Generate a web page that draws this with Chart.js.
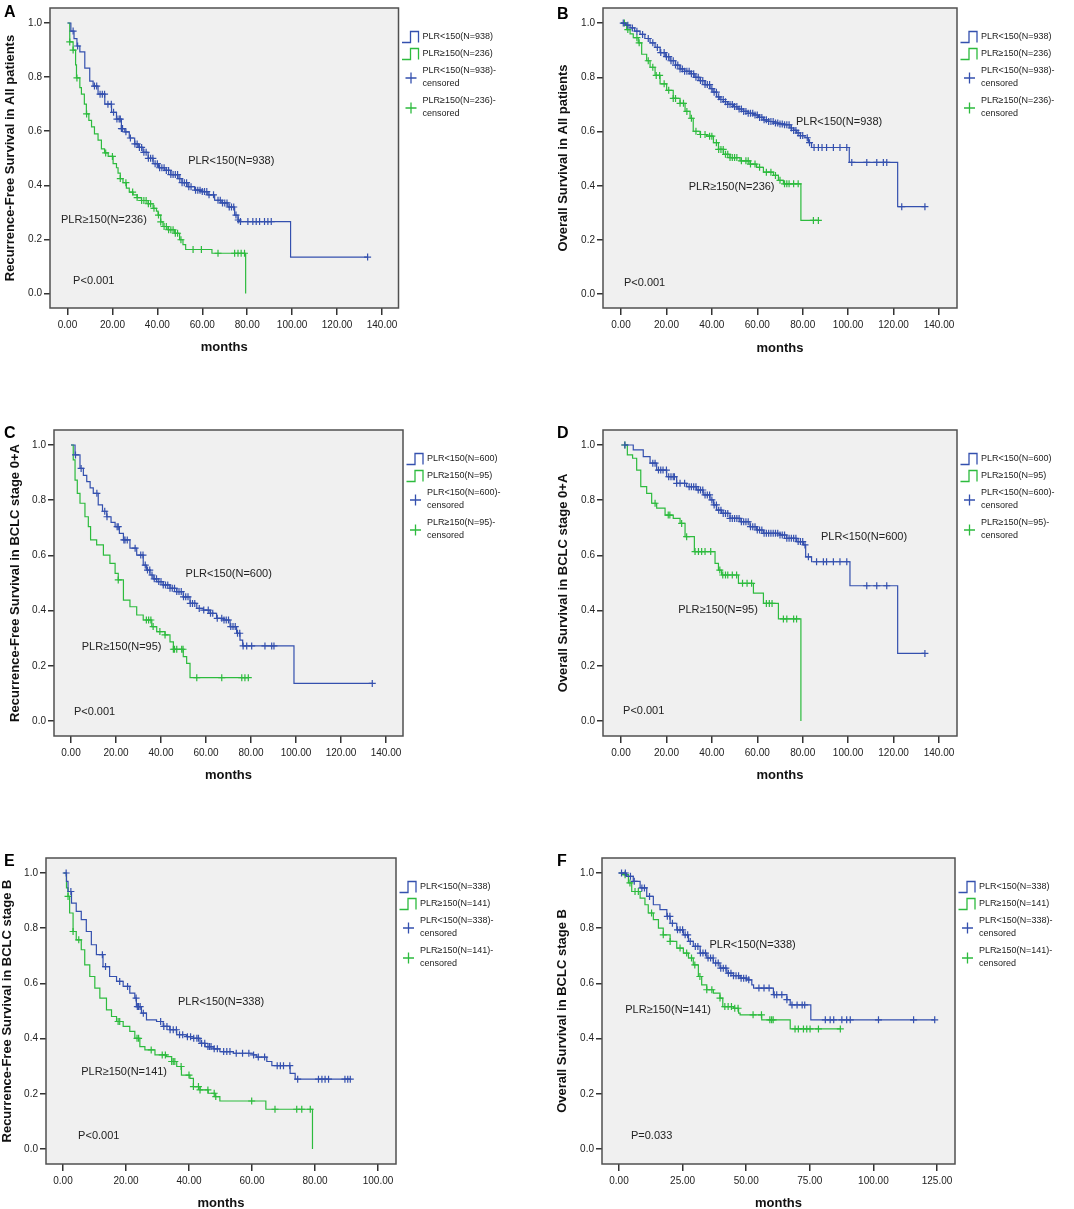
<!DOCTYPE html>
<html>
<head>
<meta charset="utf-8">
<title>PLR survival curves</title>
<script src="https://cdn.jsdelivr.net/npm/chart.js@4.4.1/dist/chart.umd.min.js"></script>
<style>
  html, body { margin: 0; padding: 0; background: #fff; }
  body { position: relative; width: 1074px; height: 1209px; overflow: hidden; }
  canvas { position: absolute; }
  .tag { position: absolute; z-index: 5; font: bold 16px Arial, "Liberation Sans", sans-serif; line-height: 16px; color: #000; }
</style>
</head>
<body>
<div class="tag" style="left:4px;top:4px">A</div>
<div class="tag" style="left:557px;top:6px">B</div>
<div class="tag" style="left:4px;top:425px">C</div>
<div class="tag" style="left:557px;top:425px">D</div>
<div class="tag" style="left:4px;top:853px">E</div>
<div class="tag" style="left:557px;top:853px">F</div>
<script>
"use strict";

const FONT = 'Arial, "Liberation Sans", sans-serif';
const BLUE = '#3450ae';
const GREEN = '#2dbb3e';

// Tick labels
const xTicks140 = [0, 20, 40, 60, 80, 100, 120, 140];
const xTicks100 = [0, 20, 40, 60, 80, 100];
const xTicks125 = [0, 25, 50, 75, 100, 125];
const yTicks = [0, 0.2, 0.4, 0.6, 0.8, 1.0];

// Group labels
const groupsAll = ['PLR<150(N=938)', 'PLR≥150(N=236)'];
const groups0A = ['PLR<150(N=600)', 'PLR≥150(N=95)'];
const groupsB = ['PLR<150(N=338)', 'PLR≥150(N=141)'];

// A: Recurrence-free survival, all patients (step times in months / survival / censored times)
const aLowT = [0, 1.5, 2.9, 4.2, 5.5, 7.7, 9.9, 11.4, 13.6, 16.6, 19.6, 21.8, 24, 25.5, 27.5, 29.9, 31.5, 33.6, 35.9, 38.1, 40.5, 43.3, 46, 49.2, 51, 53.6, 56.6, 59.6, 62.5, 65.5, 68.4, 71.4, 74.4, 75.9, 76.6, 99.3, 133.6];
const aLowS = [1, 0.97, 0.942, 0.915, 0.893, 0.833, 0.785, 0.767, 0.737, 0.70, 0.67, 0.645, 0.61, 0.598, 0.575, 0.553, 0.54, 0.522, 0.50, 0.48, 0.465, 0.455, 0.44, 0.425, 0.41, 0.395, 0.382, 0.377, 0.365, 0.345, 0.335, 0.32, 0.29, 0.272, 0.266, 0.135, 0.135];
const aLowC = [2.5, 4.5, 12, 13, 14.5, 15.5, 16.5, 18, 19.5, 20.5, 22, 23, 23.5, 24, 24.5, 26, 28, 30, 31, 32, 33, 34, 35, 36, 37, 38, 39, 40, 41, 42, 43, 44, 45, 46, 47, 48, 49, 50, 51, 52, 53, 54, 55, 57, 58, 59, 60, 61, 62, 63, 65, 67, 68, 69, 70, 71, 72, 73, 74, 75, 76, 77, 80.3, 82.5, 84, 85.5, 87.7, 89.2, 90.7, 133.6];
const aHighT = [0, 1, 2.5, 3.6, 4, 5.5, 6.2, 7.5, 8.4, 9.5, 10.7, 12, 13.6, 15.1, 16.5, 18.1, 20.3, 21.8, 22.5, 23.5, 24.7, 26.2, 27.5, 29.2, 31, 32.9, 35.9, 38.1, 39.6, 40.3, 41.5, 42.5, 44.7, 47.7, 49.9, 51.4, 52.6, 64.3, 79.3];
const aHighS = [1, 0.93, 0.90, 0.845, 0.797, 0.761, 0.737, 0.70, 0.664, 0.64, 0.616, 0.59, 0.567, 0.535, 0.52, 0.507, 0.48, 0.465, 0.445, 0.425, 0.41, 0.39, 0.375, 0.365, 0.355, 0.344, 0.332, 0.315, 0.305, 0.29, 0.265, 0.248, 0.236, 0.223, 0.199, 0.181, 0.163, 0.149, 0];
const aHighC = [1, 2.5, 4.2, 8.5, 17, 20, 23.5, 26, 29, 31, 33, 34, 35, 36, 37, 38.5, 40.5, 41.5, 43, 44, 45, 46, 47, 48, 49, 50.5, 55.9, 59.6, 67, 74.4, 75.9, 77.3, 78.8];

// B: Overall survival, all patients
const bLowT = [0, 2, 4, 6, 8.4, 10.5, 12.8, 15, 17.2, 19.5, 21.6, 24, 26, 28, 30.4, 32.5, 34.8, 37, 39.2, 40.5, 42.1, 43.5, 45.1, 47, 49.5, 51.5, 53.9, 56, 58.3, 60.5, 62.7, 65, 67.1, 69.5, 71.5, 74.4, 76, 77.3, 79, 81, 82.5, 83.9, 100.5, 121.8, 133.8];
const bLowS = [1, 0.992, 0.982, 0.97, 0.958, 0.943, 0.927, 0.91, 0.891, 0.876, 0.861, 0.845, 0.831, 0.822, 0.813, 0.80, 0.788, 0.773, 0.758, 0.745, 0.728, 0.718, 0.71, 0.70, 0.692, 0.683, 0.674, 0.667, 0.661, 0.652, 0.643, 0.637, 0.631, 0.628, 0.625, 0.613, 0.604, 0.595, 0.585, 0.577, 0.559, 0.541, 0.486, 0.323, 0.323];
const bLowC = [1, 3, 5, 7, 9.5, 12, 14, 16, 17.5, 19, 20, 21, 22, 23, 24, 25, 26, 27, 28, 29, 30, 31, 32, 33, 34, 35, 36, 37, 38, 39, 40, 41, 42, 43, 44, 45, 46, 47, 48, 49, 50, 51, 52, 53, 54, 55, 56, 57, 58, 59, 60, 61, 62, 63, 64, 65, 66, 67, 68, 69, 70, 71, 72, 73, 74, 75, 76, 77, 78, 79, 80, 82, 83, 85, 86.9, 88.5, 90.5, 93.5, 96.4, 99.4, 101.6, 108.2, 112.6, 115.5, 117, 123.6, 133.8];
const bHighT = [0, 2.5, 4, 5.4, 7.6, 9.1, 11.3, 12.8, 15, 17.2, 20.1, 23, 26, 28.2, 30.4, 31.8, 34.8, 37.7, 40.7, 42.9, 45.1, 48, 52.4, 56.8, 59.7, 62.7, 67.1, 69.3, 71.5, 79.2, 86.9];
const bHighS = [1, 0.976, 0.96, 0.946, 0.927, 0.885, 0.861, 0.837, 0.807, 0.776, 0.752, 0.722, 0.704, 0.674, 0.649, 0.601, 0.589, 0.583, 0.559, 0.534, 0.516, 0.504, 0.492, 0.48, 0.468, 0.45, 0.438, 0.42, 0.407, 0.272, 0.272];
const bHighC = [1.5, 3, 7, 8, 12, 14, 15.5, 17, 19, 21, 23, 24, 26, 27.5, 29, 31, 33, 35, 37, 39, 40, 42, 43, 44, 45, 46, 47, 48, 49, 50, 51, 53, 55, 56, 57, 59, 61, 64, 66, 68, 70, 72, 73, 74, 76, 78, 84.7, 86.9];

// C: Recurrence-free survival, BCLC stage 0+A
const cLowT = [0, 1.8, 4, 5.5, 7, 8.5, 9.9, 12.1, 14, 15.9, 17.8, 19.6, 21.5, 23.3, 26.2, 29.2, 32.1, 33.5, 35.1, 36.5, 38.1, 41, 44, 47, 49.9, 52.9, 55.9, 58.8, 61.8, 64.7, 67.7, 70.7, 73.6, 75.1, 76.3, 99.1, 133.9];
const cLowS = [1, 0.964, 0.915, 0.89, 0.867, 0.845, 0.825, 0.783, 0.76, 0.74, 0.72, 0.704, 0.68, 0.656, 0.626, 0.601, 0.565, 0.547, 0.529, 0.515, 0.505, 0.493, 0.481, 0.469, 0.45, 0.426, 0.408, 0.402, 0.39, 0.372, 0.366, 0.342, 0.318, 0.293, 0.272, 0.136, 0.136];
const cLowC = [2, 4.5, 11.5, 15, 16, 20.5, 21, 23.5, 24, 25, 28.5, 31, 32, 33, 34, 35, 36, 37, 38, 39, 40, 41, 42, 43, 44, 45, 46, 47, 48, 49, 50, 51, 52, 53, 54, 55, 57, 59, 61, 62, 63, 65, 67, 68, 69, 70, 71, 72, 73, 74, 75, 76.5, 78.1, 80.3, 86.2, 89.2, 90.2, 133.9];
const cHighT = [0, 1, 1.8, 2.8, 4, 6.2, 7.7, 8.7, 11.4, 14.4, 17.3, 19.6, 21, 23.3, 26.2, 29.2, 32.1, 35.9, 38.1, 41.8, 44, 45.5, 49.9, 51.4, 52.9, 78.8];
const cHighS = [1, 0.946, 0.873, 0.825, 0.789, 0.74, 0.704, 0.656, 0.638, 0.601, 0.571, 0.535, 0.511, 0.438, 0.414, 0.384, 0.366, 0.342, 0.324, 0.312, 0.287, 0.26, 0.233, 0.209, 0.157, 0.157];
const cHighC = [21, 33.5, 34.5, 35.5, 36.5, 39.5, 41.8, 45.5, 46, 47, 49.2, 49.8, 55.9, 67, 75.9, 77.3, 78.8];

// D: Overall survival, BCLC stage 0+A
const dLowT = [1.7, 5.4, 9.8, 12.8, 15.7, 20.1, 24.5, 28.9, 33.3, 36.2, 39.2, 40.7, 42.1, 44.3, 48, 52.4, 56.8, 59.7, 62.7, 67.1, 70, 72.9, 77.3, 80.3, 81.3, 83.9, 100.8, 121.8, 133.8];
const dLowS = [1, 0.982, 0.958, 0.934, 0.909, 0.885, 0.861, 0.849, 0.837, 0.819, 0.801, 0.783, 0.764, 0.752, 0.734, 0.722, 0.704, 0.692, 0.68, 0.68, 0.674, 0.662, 0.65, 0.638, 0.595, 0.577, 0.49, 0.245, 0.245];
const dLowC = [1.7, 14, 15, 16.5, 17.5, 18.5, 20, 21, 22, 23, 23.5, 24.5, 26, 28, 30, 31, 32, 33, 34, 35, 36, 37, 38, 39, 40, 41, 42, 43, 44, 45, 46, 47, 48, 49, 50, 51, 52, 53, 54, 55, 56, 57, 58, 59, 60, 61, 62, 63, 64, 65, 66, 67, 68, 69, 70, 71, 72, 73, 74, 75, 76, 77, 78, 79, 80, 81, 82.5, 86.1, 89.1, 90.5, 93.5, 96.4, 99.4, 108.2, 112.6, 117, 133.8];
const dHighT = [1.7, 2.8, 5.1, 6.9, 8.7, 11.3, 13.5, 15.7, 19.4, 23, 26, 28.2, 32.3, 41.4, 42.9, 44.3, 51.7, 58.3, 62.7, 69.3, 79.2];
const dHighS = [1, 0.964, 0.952, 0.909, 0.849, 0.825, 0.789, 0.771, 0.746, 0.734, 0.716, 0.668, 0.614, 0.571, 0.547, 0.529, 0.499, 0.463, 0.426, 0.37, 0];
const dHighC = [1.7, 15, 20.8, 21.5, 26.7, 28.9, 32.6, 34.1, 35.5, 37, 39.5, 43.5, 44.8, 46, 47, 49, 50.9, 53.5, 55.5, 57.5, 64, 65.3, 66.5, 71.5, 73, 76, 77.3];

// E: Recurrence-free survival, BCLC stage B
const eLowT = [0.2, 1.1, 1.6, 2.7, 4.2, 5.8, 7.4, 9, 10.6, 12.7, 14.8, 17, 19.1, 21.2, 22.8, 23.3, 24.9, 26.5, 29.7, 31.8, 33.9, 36.1, 39.2, 41.4, 43.5, 45.1, 47.7, 49.8, 54.1, 60.4, 61.5, 64.7, 66.3, 72.1, 73.7, 91.2];
const eLowS = [1, 0.97, 0.933, 0.891, 0.861, 0.831, 0.788, 0.74, 0.704, 0.661, 0.625, 0.607, 0.589, 0.565, 0.547, 0.516, 0.492, 0.468, 0.462, 0.444, 0.432, 0.414, 0.407, 0.401, 0.383, 0.371, 0.363, 0.353, 0.347, 0.341, 0.333, 0.317, 0.302, 0.274, 0.253, 0.253];
const eLowC = [1, 2.5, 12.5, 13.5, 18, 20.5, 23.2, 23.6, 24, 24.5, 25.5, 31, 32, 33, 34, 35, 36, 37, 38, 39.5, 40.5, 41.5, 42.5, 43, 44, 45, 46, 46.5, 47, 48, 49, 51, 52, 53, 55, 57, 59, 60.5, 62, 64, 68, 69, 70, 72, 74.5, 81.1, 82.2, 83.2, 84.3, 89.5, 90.4, 91.2];
const eHighT = [0.2, 1.1, 1.6, 2.1, 3.2, 4.2, 5.8, 6.9, 8.5, 10.1, 11.7, 13.8, 15.4, 17, 19.1, 21.2, 22.8, 24.4, 26, 29.2, 32.9, 34.5, 36.1, 37.6, 40.3, 41.4, 43.5, 46.1, 48.3, 49.8, 64.4, 79.2];
const eHighS = [1, 0.946, 0.915, 0.855, 0.788, 0.758, 0.722, 0.667, 0.625, 0.583, 0.547, 0.504, 0.48, 0.462, 0.444, 0.426, 0.401, 0.371, 0.359, 0.341, 0.335, 0.317, 0.299, 0.268, 0.256, 0.226, 0.214, 0.202, 0.19, 0.174, 0.144, 0];
const eHighC = [1.6, 3.2, 5, 17.5, 18, 23.5, 24, 28, 31.5, 32.5, 34.5, 35, 35.5, 37.5, 40, 41.4, 43, 43.5, 46, 48, 48.5, 59.9, 67.3, 74.2, 75.8, 78.5];

// F: Overall survival, BCLC stage B
const fLowT = [0, 3, 5.6, 8.3, 10.9, 13.5, 16.1, 18.8, 20.1, 22.7, 25.3, 27.3, 29.2, 31.9, 34.5, 37.1, 39.7, 42.4, 45, 47.6, 50.2, 52.2, 52.9, 60.7, 66, 67.3, 75.4, 124.1];
const fLowS = [1, 0.988, 0.97, 0.946, 0.915, 0.885, 0.867, 0.843, 0.818, 0.794, 0.776, 0.752, 0.734, 0.71, 0.692, 0.674, 0.655, 0.637, 0.628, 0.619, 0.613, 0.595, 0.583, 0.559, 0.541, 0.522, 0.468, 0.468];
const fLowC = [1, 2.5, 4.5, 6, 9, 10, 12, 19, 20, 21, 23, 24, 25, 26, 27, 28, 30, 31, 32, 33, 34, 35, 36, 37, 38, 39, 40, 41, 42, 43, 44, 45, 46, 47, 48, 49, 50, 51, 55, 57, 59, 61, 62, 64, 66, 68, 70, 72, 73, 81.1, 83, 84.4, 87.6, 89.5, 90.9, 102, 115.8, 124.1];
const fHighT = [0, 1.7, 3.7, 5, 8.3, 10.2, 11.5, 13.5, 15.5, 17.4, 20.1, 22.7, 25.3, 27.3, 29.2, 31.2, 32.5, 34.5, 37.1, 39.7, 40.8, 45, 47, 47.6, 56.1, 67.3, 87];
const fHighS = [1, 0.994, 0.964, 0.933, 0.909, 0.885, 0.855, 0.831, 0.80, 0.776, 0.752, 0.728, 0.71, 0.692, 0.667, 0.625, 0.595, 0.577, 0.565, 0.547, 0.516, 0.51, 0.492, 0.486, 0.468, 0.435, 0.435];
const fHighC = [2.4, 4.3, 6.3, 7.6, 12.8, 17.4, 20.1, 24, 26.6, 28.5, 29.8, 31.8, 34.5, 36.5, 39.7, 41.6, 42.9, 44.2, 45.5, 46.8, 52.7, 56, 59.3, 60, 60.6, 69.2, 70.5, 72.5, 73.8, 75.1, 78.4, 87];


// Survival value in force at time t (used to put the censor marks on the curve)
function survAt(times, surv, t) {
    let s = surv[0];
    for (let i = 0; i < times.length; i++) {
        if (times[i] <= t) s = surv[i]; else break;
    }
    return s;
}

function curveSets(times, surv, cens, color) {
    return [{
        type: 'line',
        data: times.map((t, i) => ({x: t, y: surv[i]})),
        borderColor: color,
        borderWidth: 1.2,
        pointRadius: 0,
        stepped: 'before',
        fill: false
    }, {
        type: 'scatter',
        data: cens.map(t => ({x: t, y: survAt(times, surv, t)})),
        borderColor: color,
        backgroundColor: color,
        pointStyle: 'cross',
        pointRadius: 3.5,
        borderWidth: 1.2,
        showLine: false
    }];
}

const panels = [
    {box: {x: 0, y: 0, w: 540, h: 362}, frame: {l: 50, t: 2, r: 398.5, b: 308}, xPix: [67.5, 382], yPix: [293.3, 17.3],
     xTicks: xTicks140, yTitle: 'Recurrence-Free Survival in All patients', yTitleX: 10, monthsY: 347, groups: groupsAll,
     low: [aLowT, aLowS, aLowC], high: [aHighT, aHighS, aHighC],
     notes: [['PLR<150(N=938)', 72.9, 0.49, 'center'], ['PLR≥150(N=236)', 16.2, 0.273, 'center'], ['P<0.001', 2.5, 0.045, 'left']]},
    {box: {x: 540, y: 0, w: 534, h: 362}, frame: {l: 603, t: 3, r: 957, b: 308}, xPix: [621, 939], yPix: [294, 18.3],
     xTicks: xTicks140, yTitle: 'Overall Survival in All patients', yTitleX: 563, monthsY: 348, groups: groupsAll,
     low: [bLowT, bLowS, bLowC], high: [bHighT, bHighS, bHighC],
     notes: [['PLR<150(N=938)', 96, 0.635, 'center'], ['PLR≥150(N=236)', 48.7, 0.395, 'center'], ['P<0.001', 1.3, 0.04, 'left']]},
    {box: {x: 0, y: 415, w: 540, h: 375}, frame: {l: 54, t: 430, r: 403, b: 736}, xPix: [71, 386], yPix: [721, 445],
     xTicks: xTicks140, yTitle: 'Recurrence-Free Survival in BCLC stage 0+A', yTitleX: 15, monthsY: 775, groups: groups0A,
     low: [cLowT, cLowS, cLowC], high: [cHighT, cHighS, cHighC],
     notes: [['PLR<150(N=600)', 70.1, 0.533, 'center'], ['PLR≥150(N=95)', 22.5, 0.268, 'center'], ['P<0.001', 1.3, 0.033, 'left']]},
    {box: {x: 540, y: 415, w: 534, h: 375}, frame: {l: 603, t: 430, r: 957, b: 736}, xPix: [621, 939], yPix: [721, 445],
     xTicks: xTicks140, yTitle: 'Overall Survival in BCLC stage 0+A', yTitleX: 563, monthsY: 775, groups: groups0A,
     low: [dLowT, dLowS, dLowC], high: [dHighT, dHighS, dHighC],
     notes: [['PLR<150(N=600)', 107, 0.667, 'center'], ['PLR≥150(N=95)', 42.7, 0.402, 'center'], ['P<0.001', 0.9, 0.036, 'left']]},
    {box: {x: 0, y: 845, w: 540, h: 364}, frame: {l: 46, t: 858, r: 396, b: 1164}, xPix: [63, 378], yPix: [1149, 873],
     xTicks: xTicks100, yTitle: 'Recurrence-Free Survival in BCLC stage B', yTitleX: 7, monthsY: 1203, groups: groupsB,
     low: [eLowT, eLowS, eLowC], high: [eHighT, eHighS, eHighC],
     notes: [['PLR<150(N=338)', 50.2, 0.533, 'center'], ['PLR≥150(N=141)', 19.4, 0.279, 'center'], ['P<0.001', 4.8, 0.047, 'left']]},
    {box: {x: 540, y: 845, w: 534, h: 364}, frame: {l: 602, t: 858, r: 955, b: 1164}, xPix: [619, 937], yPix: [1149, 873],
     xTicks: xTicks125, yTitle: 'Overall Survival in BCLC stage B', yTitleX: 562, monthsY: 1203, groups: groupsB,
     low: [fLowT, fLowS, fLowC], high: [fHighT, fHighS, fHighC],
     notes: [['PLR<150(N=338)', 52.5, 0.739, 'center'], ['PLR≥150(N=141)', 19.3, 0.504, 'center'], ['P=0.033', 4.7, 0.047, 'left']]}
];


// Legend to the right of the plot frame, in canvas coordinates
function drawLegend(ctx, area, groups) {
    const r = area.right, t = area.top;
    ctx.save();
    ctx.lineWidth = 1.3;
    // step icons
    [[BLUE, t + 29], [GREEN, t + 46]].forEach(function (it) {
        const y = it[1];
        ctx.strokeStyle = it[0];
        ctx.beginPath();
        ctx.moveTo(r + 3.5, y + 5.5);
        ctx.lineTo(r + 12, y + 5.5);
        ctx.lineTo(r + 12, y - 5.5);
        ctx.lineTo(r + 20, y - 5.5);
        ctx.lineTo(r + 20, y + 5.5);
        ctx.stroke();
    });
    // censored crosses
    [[BLUE, t + 70], [GREEN, t + 100]].forEach(function (it) {
        const y = it[1];
        ctx.strokeStyle = it[0];
        ctx.beginPath();
        ctx.moveTo(r + 7, y); ctx.lineTo(r + 18, y);
        ctx.moveTo(r + 12.5, y - 5.5); ctx.lineTo(r + 12.5, y + 5.5);
        ctx.stroke();
    });
    ctx.fillStyle = '#222';
    ctx.font = '9px ' + FONT;
    ctx.textAlign = 'left';
    ctx.textBaseline = 'middle';
    const tx = r + 24;
    ctx.fillText(groups[0], tx, t + 29);
    ctx.fillText(groups[1], tx, t + 46);
    ctx.fillText(groups[0] + '-', tx, t + 63);
    ctx.fillText('censored', tx, t + 76);
    ctx.fillText(groups[1] + '-', tx, t + 93);
    ctx.fillText('censored', tx, t + 106);
    ctx.restore();
}

function makePanel(p) {
    const cv = document.createElement('canvas');
    cv.width = p.box.w;
    cv.height = p.box.h;
    cv.style.left = p.box.x + 'px';
    cv.style.top = p.box.y + 'px';
    cv.style.width = p.box.w + 'px';
    cv.style.height = p.box.h + 'px';
    document.body.appendChild(cv);

    const f = p.frame;
    const x0 = p.xTicks[0], x1 = p.xTicks[p.xTicks.length - 1];
    const ppx = (p.xPix[1] - p.xPix[0]) / (x1 - x0);
    const ppy = p.yPix[0] - p.yPix[1];
    const xMin = x0 - (p.xPix[0] - f.l) / ppx;
    const xMax = x1 + (f.r - p.xPix[1]) / ppx;
    const yMin = -(f.b - p.yPix[0]) / ppy;
    const yMax = 1 + (p.yPix[1] - f.t) / ppy;

    const deco = {
        id: 'deco',
        beforeDraw: function (chart) {
            const a = chart.chartArea, ctx = chart.ctx;
            ctx.save();
            ctx.fillStyle = '#f0f0f0';
            ctx.fillRect(a.left, a.top, a.right - a.left, a.bottom - a.top);
            ctx.restore();
        },
        afterDraw: function (chart) {
            const a = chart.chartArea, ctx = chart.ctx;
            ctx.save();
            ctx.strokeStyle = '#505050';
            ctx.lineWidth = 1.5;
            ctx.strokeRect(a.left, a.top, a.right - a.left, a.bottom - a.top);
            ctx.fillStyle = '#222';
            ctx.font = '11px ' + FONT;
            ctx.textBaseline = 'middle';
            p.notes.forEach(function (n) {
                ctx.textAlign = n[3];
                ctx.fillText(n[0], chart.scales.x.getPixelForValue(n[1]), chart.scales.y.getPixelForValue(n[2]));
            });
            ctx.restore();
            drawLegend(ctx, a, p.groups);
        }
    };

    new Chart(cv, {
        type: 'line',
        data: {
            datasets: curveSets(p.low[0], p.low[1], p.low[2], BLUE)
                .concat(curveSets(p.high[0], p.high[1], p.high[2], GREEN))
        },
        options: {
            responsive: false,
            animation: false,
            events: [],
            layout: {padding: {left: 0, top: f.t - p.box.y, right: p.box.x + p.box.w - f.r, bottom: 0}},
            plugins: {legend: {display: false}, tooltip: {enabled: false}},
            scales: {
                x: {
                    type: 'linear', min: xMin, max: xMax, bounds: 'data',
                    afterBuildTicks: function (s) { s.ticks = p.xTicks.map(v => ({value: v})); },
                    afterFit: function (s) { s.height = p.box.y + p.box.h - f.b; },
                    grid: {drawOnChartArea: false, drawTicks: true, tickLength: 7, color: '#333', lineWidth: 1.5},
                    border: {display: false},
                    ticks: {padding: 4, color: '#222', autoSkip: false, maxRotation: 0,
                        font: {size: 10, family: FONT}, callback: v => Number(v).toFixed(2)},
                    title: {display: true, text: 'months', color: '#111',
                        font: {size: 13, weight: 'bold', family: FONT},
                        padding: {top: 0, bottom: p.box.y + p.box.h - p.monthsY - 7.8}}
                },
                y: {
                    type: 'linear', min: yMin, max: yMax, bounds: 'data',
                    afterBuildTicks: function (s) { s.ticks = yTicks.map(v => ({value: v})); },
                    afterFit: function (s) { s.width = f.l - p.box.x; },
                    grid: {drawOnChartArea: false, drawTicks: true, tickLength: 6, color: '#333', lineWidth: 1.5},
                    border: {display: false},
                    ticks: {padding: 2, color: '#222', autoSkip: false,
                        font: {size: 10, family: FONT}, callback: v => Number(v).toFixed(1)},
                    title: {display: true, text: p.yTitle, color: '#111',
                        font: {size: 13, weight: 'bold', family: FONT},
                        padding: {top: p.yTitleX - p.box.x - 7.8, bottom: 0}}
                }
            }
        },
        plugins: [deco]
    });
}

panels.forEach(makePanel);
</script>
</body>
</html>
